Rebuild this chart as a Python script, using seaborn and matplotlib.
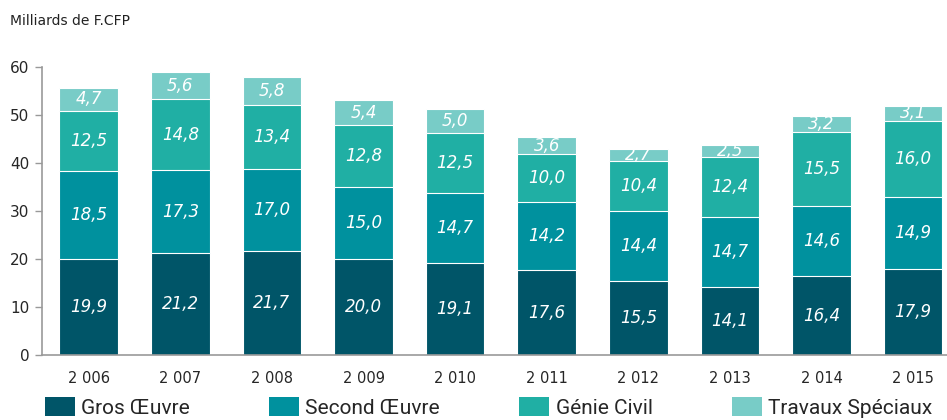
import numpy as np
import pandas as pd
import matplotlib
matplotlib.use("Agg")
import matplotlib.pyplot as plt
import seaborn as sns
from matplotlib.patches import Patch

# Data
years = ["2 006", "2 007", "2 008", "2 009", "2 010", "2 011", "2 012", "2 013", "2 014", "2 015"]
gros_oeuvre = [19.9, 21.2, 21.7, 20.0, 19.1, 17.6, 15.5, 14.1, 16.4, 17.9]
second_oeuvre = [18.5, 17.3, 17.0, 15.0, 14.7, 14.2, 14.4, 14.7, 14.6, 14.9]
genie_civil = [12.5, 14.8, 13.4, 12.8, 12.5, 10.0, 10.4, 12.4, 15.5, 16.0]
travaux_speciaux = [4.7, 5.6, 5.8, 5.4, 5.0, 3.6, 2.7, 2.5, 3.2, 3.1]

series_names = ["Gros Œuvre", "Second Œuvre", "Génie Civil", "Travaux Spéciaux"]
colors = ["#005568", "#00919E", "#20AFA4", "#78CCC7"]

sns.set_style("white")
plt.rcParams["font.family"] = ["DejaVu Sans"]

df = pd.DataFrame({
    "Année": years,
    series_names[0]: gros_oeuvre,
    series_names[1]: second_oeuvre,
    series_names[2]: genie_civil,
    series_names[3]: travaux_speciaux,
})

fig = plt.figure(figsize=(9.47, 4.2), dpi=100)
ax = fig.add_axes([0.0444, 0.155, 0.9556, 0.6857])

# stacked bars: draw cumulative totals from the top layer down
cum = df[series_names].cumsum(axis=1)
for name, color in reversed(list(zip(series_names, colors))):
    sns.barplot(x=df["Année"], y=cum[name], color=color, width=0.64,
                edgecolor="white", linewidth=0.8, ax=ax, saturation=1)

# value labels in the middle of each segment
bottoms = np.zeros(len(years))
for name in series_names:
    vals = df[name].values
    for i, v in enumerate(vals):
        ax.text(i, bottoms[i] + v / 2, f"{v:.1f}".replace(".", ","),
                ha="center", va="center", color="white", fontsize=12,
                style="italic")
    bottoms += vals

ax.set_xlim(-0.51, 9.37)
ax.set_ylim(0, 60)
ax.set_yticks(range(0, 61, 10))
ax.set_xlabel("")
ax.set_ylabel("")
ax.tick_params(axis="y", left=True, length=5, width=1, color="#999999",
               labelsize=11, pad=4)
ax.tick_params(axis="x", bottom=False, labelsize=10.5, pad=8)
for s in ["top", "right"]:
    ax.spines[s].set_visible(False)
for s in ["left", "bottom"]:
    ax.spines[s].set_color("#999999")
    ax.spines[s].set_linewidth(1.2)

fig.text(0.011, 0.95, "Milliards de F.CFP", fontsize=10, color="#222222",
         ha="left", va="center")

handles = [Patch(facecolor=c, edgecolor="none") for c in colors]
fig.legend(handles, series_names, loc="center left", ncol=4,
           bbox_to_anchor=(0.047, 0.03), frameon=False,
           prop={"family": "Roboto", "size": 15},
           handlelength=1.45, handleheight=1.0, handletextpad=0.3,
           columnspacing=3.8, borderaxespad=0, borderpad=0)

fig.savefig("out.png", dpi=100)
